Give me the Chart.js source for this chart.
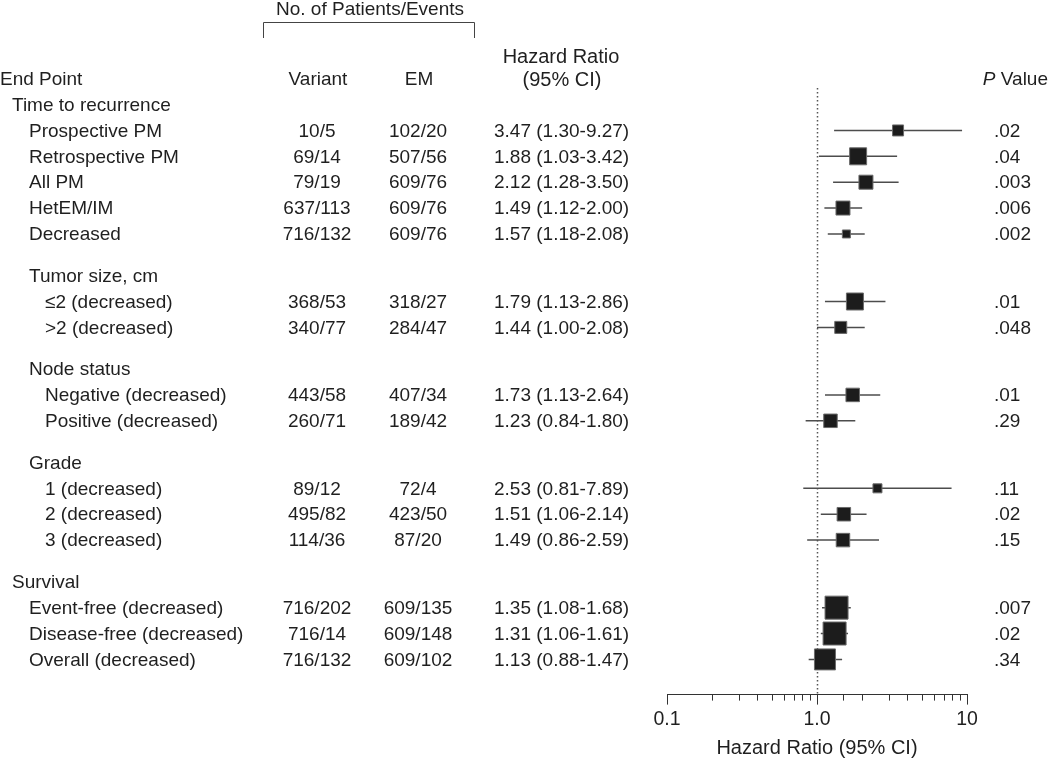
<!DOCTYPE html>
<html>
<head>
<meta charset="utf-8">
<script src="https://cdn.jsdelivr.net/npm/chart.js@4.4.1/dist/chart.umd.min.js"></script>
<style>
    html, body { margin: 0; padding: 0; background: #fff; }
    .contenedor { position: relative; width: 1050px; height: 762px; }
</style>
</head>
<body>
<div class="contenedor"><canvas id="grafico"></canvas></div>
<script>
// rows of the table (group headers have no values)
const endPoints = ['Time to recurrence', 'Prospective PM', 'Retrospective PM', 'All PM', 'HetEM/IM', 'Decreased',
    'Tumor size, cm', '\u22642 (decreased)', '>2 (decreased)',
    'Node status', 'Negative (decreased)', 'Positive (decreased)',
    'Grade', '1 (decreased)', '2 (decreased)', '3 (decreased)',
    'Survival', 'Event-free (decreased)', 'Disease-free (decreased)', 'Overall (decreased)'];
const rowLevel = [0, 1, 1, 1, 1, 1, 1, 2, 2, 1, 2, 2, 1, 2, 2, 2, 0, 1, 1, 1];
const variantCounts = ['', '10/5', '69/14', '79/19', '637/113', '716/132', '', '368/53', '340/77', '', '443/58', '260/71',
    '', '89/12', '495/82', '114/36', '', '716/202', '716/14', '716/132'];
const emCounts = ['', '102/20', '507/56', '609/76', '609/76', '609/76', '', '318/27', '284/47', '', '407/34', '189/42',
    '', '72/4', '423/50', '87/20', '', '609/135', '609/148', '609/102'];
const hazardRatio = [null, 3.47, 1.88, 2.12, 1.49, 1.57, null, 1.79, 1.44, null, 1.73, 1.23, null, 2.53, 1.51, 1.49, null, 1.35, 1.31, 1.13];
const ciLower = [null, 1.30, 1.03, 1.28, 1.12, 1.18, null, 1.13, 1.00, null, 1.13, 0.84, null, 0.81, 1.06, 0.86, null, 1.08, 1.06, 0.88];
const ciUpper = [null, 9.27, 3.42, 3.50, 2.00, 2.08, null, 2.86, 2.08, null, 2.64, 1.80, null, 7.89, 2.14, 2.59, null, 1.68, 1.61, 1.47];
const pValues = ['', '.02', '.04', '.003', '.006', '.002', '', '.01', '.048', '', '.01', '.29', '', '.11', '.02', '.15', '', '.007', '.02', '.34'];
// relative weight of each estimate, shown as box side
const boxWeight = [null, 12, 18, 15, 15, 9, null, 18, 13, null, 14.5, 14.5, null, 10, 14.5, 14.5, null, 24, 24, 22];
const tickValues = [0.1, 1, 10];
const tickLabels = ['0.1', '1.0', '10'];

const TEXT = '#1f1f1f';
const FAMILY = '"Liberation Sans", Arial, sans-serif';
const FONT_SIZE = 19;
const FONT = FONT_SIZE + 'px ' + FAMILY;
const INDENT = [12, 29, 45];

// vertical position of each row, with a gap before every new group
let gaps = 0;
const rowPos = endPoints.map((lab, i) => {
    if (i > 0 && hazardRatio[i] === null) gaps++;
    return i + gaps * 0.61;
});

function isMajor(v) {
    const l = Math.log10(v);
    return Math.abs(l - Math.round(l)) < 1e-6;
}

const forestPlugin = {
    id: 'forestPlugin',
    beforeDatasetsDraw(chart) {
        const { ctx, chartArea, scales: { x } } = chart;
        const px = Math.round(x.getPixelForValue(1)) + 0.5;
        ctx.save();
        ctx.strokeStyle = '#555';
        ctx.lineWidth = 1.5;
        ctx.setLineDash([1.5, 2.5]);
        ctx.beginPath();
        ctx.moveTo(px, chartArea.top);
        ctx.lineTo(px, chartArea.bottom);
        ctx.stroke();
        ctx.restore();
    },
    afterDraw(chart) {
        const { ctx, scales: { x, y } } = chart;
        ctx.save();
        ctx.font = FONT;
        ctx.fillStyle = TEXT;
        ctx.textBaseline = 'middle';

        // column headers
        ctx.textAlign = 'center';
        ctx.fillText('No. of Patients/Events', 370, 10);
        ctx.font = '20px ' + FAMILY;
        ctx.fillText('Hazard Ratio', 561, 57);
        ctx.fillText('(95% CI)', 562, 80);
        ctx.font = FONT;
        ctx.fillText('Variant', 318, 80);
        ctx.fillText('EM', 419, 80);
        ctx.textAlign = 'left';
        ctx.fillText('End Point', 0, 80);
        const wV = ctx.measureText(' Value').width;
        ctx.font = 'italic ' + FONT;
        const wP = ctx.measureText('P').width;
        ctx.fillText('P', 1048 - wV - wP, 80);
        ctx.font = FONT;
        ctx.fillText(' Value', 1048 - wV, 80);

        // bracket over the counts
        ctx.strokeStyle = '#444';
        ctx.lineWidth = 1;
        ctx.beginPath();
        ctx.moveTo(263.5, 38);
        ctx.lineTo(263.5, 22.5);
        ctx.lineTo(474.5, 22.5);
        ctx.lineTo(474.5, 38);
        ctx.stroke();

        // table rows
        endPoints.forEach((lab, i) => {
            const py = y.getPixelForValue(rowPos[i]) + 1;
            ctx.textAlign = 'left';
            ctx.fillText(lab, INDENT[rowLevel[i]], py);
            if (hazardRatio[i] === null) return;
            ctx.textAlign = 'center';
            ctx.fillText(variantCounts[i], 317, py);
            ctx.fillText(emCounts[i], 418, py);
            ctx.textAlign = 'left';
            ctx.fillText(`${hazardRatio[i].toFixed(2)} (${ciLower[i].toFixed(2)}-${ciUpper[i].toFixed(2)})`, 494, py);
            ctx.fillText(pValues[i], 994, py);
        });

        // minor tick marks
        ctx.strokeStyle = '#333';
        x.ticks.forEach(t => {
            if (isMajor(t.value)) return;
            const tx = Math.round(x.getPixelForValue(t.value)) + 0.5;
            ctx.beginPath();
            ctx.moveTo(tx, x.top);
            ctx.lineTo(tx, x.top + 6);
            ctx.stroke();
        });
        ctx.restore();
    }
};

const datasets = [];
const boxes = [];
const boxRadius = [];
hazardRatio.forEach((hr, i) => {
    if (hr === null) return;
    boxes.push({ x: hr, y: rowPos[i] });
    boxRadius.push((boxWeight[i] - 1) / Math.SQRT2);
    datasets.push({
        type: 'line',
        data: [{ x: ciLower[i], y: rowPos[i] }, { x: ciUpper[i], y: rowPos[i] }],
        borderColor: '#4d4d4d',
        borderWidth: 1.5,
        pointRadius: 0,
        order: 1
    });
});
datasets.unshift({
    type: 'scatter',
    data: boxes,
    pointStyle: 'rect',
    pointRadius: boxRadius,
    backgroundColor: '#1c1c1c',
    borderColor: '#6a6a6a',
    borderWidth: 1,
    order: 0
});

new Chart(document.getElementById('grafico'), {
    type: 'scatter',
    data: { datasets: datasets },
    options: {
        responsive: true,
        maintainAspectRatio: false,
        animation: false,
        layout: { padding: { left: 667, right: 83, top: 88, bottom: 0 } },
        plugins: { legend: { display: false }, tooltip: { enabled: false } },
        scales: {
            x: {
                type: 'logarithmic',
                min: 0.1,
                max: 10,
                border: { display: true, color: '#333', width: 1 },
                grid: {
                    drawOnChartArea: false,
                    drawTicks: true,
                    tickLength: 10,
                    tickWidth: 1,
                    tickColor: c => (c.tick && isMajor(c.tick.value)) ? '#333' : 'rgba(0,0,0,0)'
                },
                ticks: {
                    autoSkip: false,
                    maxRotation: 0,
                    padding: 3,
                    color: TEXT,
                    font: { family: FAMILY, size: 19.5 },
                    callback: v => {
                        const k = tickValues.findIndex(t => Math.abs(t - v) < 1e-9);
                        return k >= 0 ? tickLabels[k] : '';
                    }
                },
                title: {
                    display: true,
                    text: 'Hazard Ratio (95% CI)',
                    color: TEXT,
                    font: { family: FAMILY, size: 20 },
                    padding: { top: 2, bottom: 2 }
                }
            },
            y: {
                type: 'linear',
                display: false,
                reverse: true,
                min: -0.64,
                max: 22.8
            }
        }
    },
    plugins: [forestPlugin]
});
</script>
</body>
</html>
